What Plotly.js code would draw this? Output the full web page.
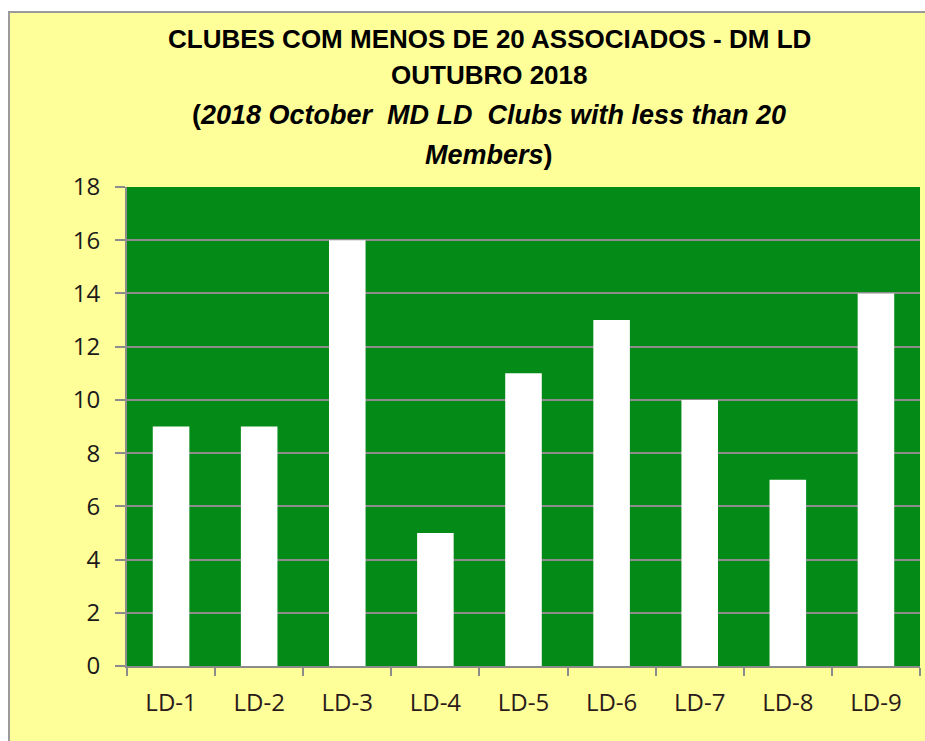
<!DOCTYPE html>
<html>
<head>
<meta charset="utf-8">
<script src="https://cdn.plot.ly/plotly-3.0.1.min.js"></script>
<style>
  html, body { margin: 0; padding: 0; background: #ffffff; }
  #frame { position: absolute; left: 8px; top: 11px; border-left: 2px solid #9a9a9a; border-top: 2px solid #9a9a9a; }
  #chart { width: 915px; height: 728px; }
</style>
</head>
<body>
<div id="frame"><div id="chart"></div></div>
<script>
const categories = ["LD-1", "LD-2", "LD-3", "LD-4", "LD-5", "LD-6", "LD-7", "LD-8", "LD-9"];
const clubs = [9, 9, 16, 5, 11, 13, 10, 7, 14];
const yTicks = [0, 2, 4, 6, 8, 10, 12, 14, 16, 18];
const titleLines = [
  "CLUBES COM MENOS DE 20 ASSOCIADOS - DM LD",
  "OUTUBRO 2018",
  "(<i>2018 October  MD LD  Clubs with less than 20</i>",
  "<i>Members</i>)"
];

const titleSizes = [26, 26, 27, 27];
const titleY = [1.310, 1.233, 1.150, 1.067];

const annotations = titleLines.map((t, i) => ({
  text: "<b>" + t + "</b>",
  xref: "paper", yref: "paper",
  x: 0.4565, y: titleY[i],
  xanchor: "center", yanchor: "middle",
  showarrow: false,
  font: { family: "Liberation Sans, Arial, sans-serif", size: titleSizes[i], color: "#000000" }
}));

const trace = {
  type: "bar",
  x: categories,
  y: clubs,
  marker: { color: "#ffffff", line: { width: 0 } },
  hoverinfo: "x+y"
};

const layout = {
  width: 915,
  height: 728,
  margin: { l: 117, r: 5, t: 174, b: 75 },
  paper_bgcolor: "#ffff99",
  plot_bgcolor: "#048a17",
  bargap: 0.585,
  showlegend: false,
  annotations: annotations,
  xaxis: {
    type: "category",
    tickson: "boundaries",
    ticks: "outside",
    ticklen: 8,
    tickwidth: 2,
    tickcolor: "#8c8c8c",
    showline: true,
    linecolor: "#8c8c8c",
    linewidth: 2,
    showgrid: false,
    ticklabelstandoff: 14,
    tickfont: { family: "Open Sans, Liberation Sans, sans-serif", size: 24, color: "#2a1a1a" }
  },
  yaxis: {
    range: [0, 18],
    tickvals: yTicks,
    ticktext: yTicks.map(String),
    ticks: "outside",
    ticklen: 10,
    tickwidth: 2,
    tickcolor: "#8c8c8c",
    showline: true,
    linecolor: "#8c8c8c",
    linewidth: 2,
    showgrid: true,
    gridcolor: "#8c8c8c",
    gridwidth: 2,
    zeroline: false,
    ticklabelstandoff: 10,
    tickfont: { family: "Open Sans, Liberation Sans, sans-serif", size: 24, color: "#1a1a1a" }
  }
};

Plotly.newPlot("chart", [trace], layout, { displayModeBar: false, staticPlot: true });
</script>
</body>
</html>
